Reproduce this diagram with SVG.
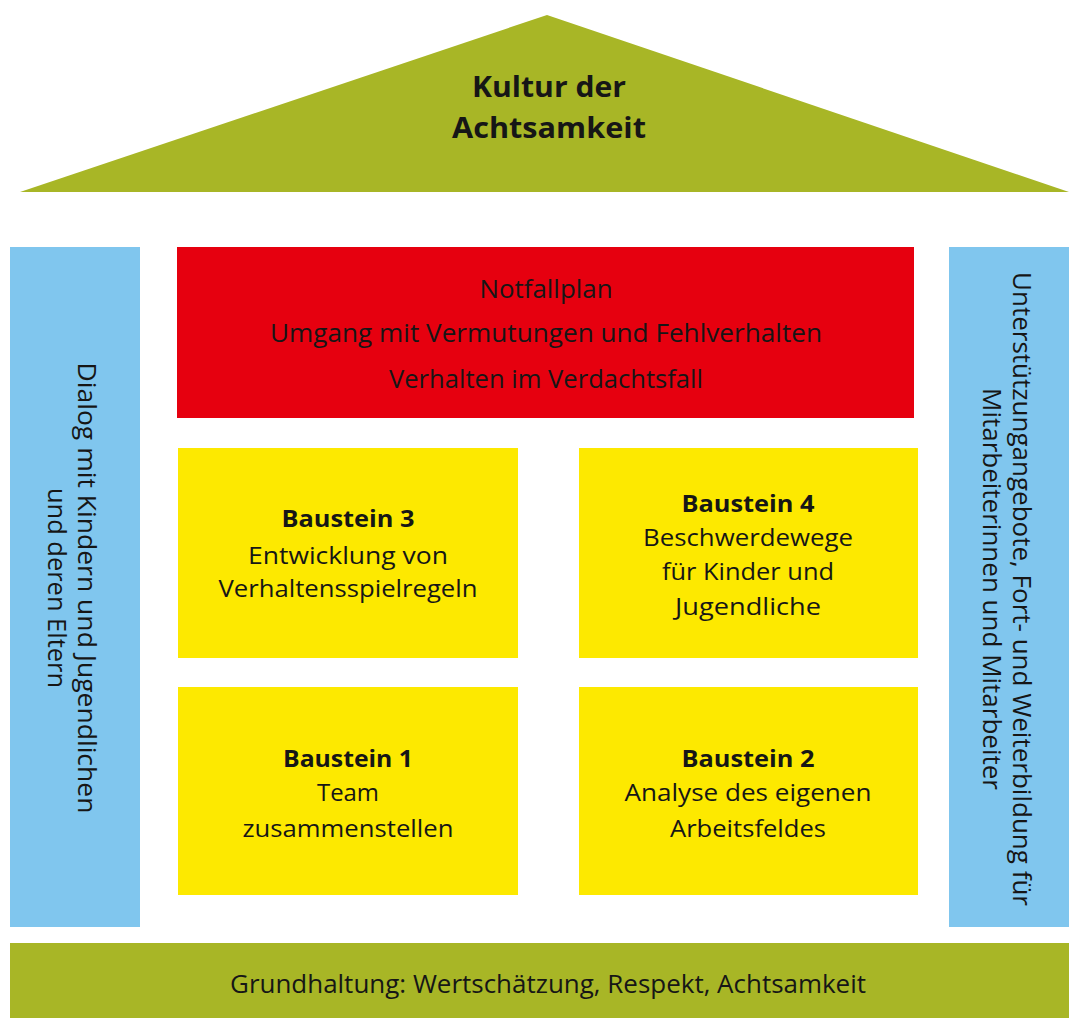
<svg xmlns="http://www.w3.org/2000/svg" width="1069" height="1018" viewBox="0 0 1069 1018">
  <style>
    .olive { fill: #a8b626; }
    .blue { fill: #80c6ee; }
    .red { fill: #e6000f; }
    .yellow { fill: #fde900; }
    text { font-family: "Open Sans", "Noto Sans", "DejaVu Sans", sans-serif; fill: #161616; text-anchor: middle; }
    .t { font-size: 23px; }
    .tb { font-size: 23px; font-weight: bold; }
    .big { font-size: 25px; }
    .roof { font-size: 29px; font-weight: bold; }
    .side { font-size: 26px; }
  </style>

  <rect width="1069" height="1018" fill="#ffffff"/>

  <!-- roof -->
  <g id="roof">
    <polygon class="olive" points="547,15 20,192 1069,192"/>
    <text class="roof" x="549" y="97" textLength="154" lengthAdjust="spacingAndGlyphs">Kultur der</text>
    <text class="roof" x="549" y="138" textLength="194" lengthAdjust="spacingAndGlyphs">Achtsamkeit</text>
  </g>

  <!-- left pillar -->
  <g id="pillar-left">
    <rect class="blue" x="10" y="247" width="130" height="680"/>
    <text class="side" transform="translate(78,588) rotate(90)" textLength="451" lengthAdjust="spacingAndGlyphs">Dialog mit Kindern und Jugendlichen</text>
    <text class="side" transform="translate(48,588) rotate(90)" textLength="200" lengthAdjust="spacingAndGlyphs">und deren Eltern</text>
  </g>

  <!-- right pillar -->
  <g id="pillar-right">
    <rect class="blue" x="949" y="247" width="120" height="680"/>
    <text class="side" transform="translate(1013,589) rotate(90)" textLength="634" lengthAdjust="spacingAndGlyphs">Unterstützungangebote, Fort- und Weiterbildung für</text>
    <text class="side" transform="translate(983,589) rotate(90)" textLength="402" lengthAdjust="spacingAndGlyphs">Mitarbeiterinnen und Mitarbeiter</text>
  </g>

  <!-- emergency plan -->
  <g id="notfallplan">
    <rect class="red" x="177" y="247" width="737" height="171"/>
    <text class="big" x="546" y="298" textLength="133" lengthAdjust="spacingAndGlyphs">Notfallplan</text>
    <text class="big" x="546" y="342" textLength="552" lengthAdjust="spacingAndGlyphs">Umgang mit Vermutungen und Fehlverhalten</text>
    <text class="big" x="546" y="388" textLength="314" lengthAdjust="spacingAndGlyphs">Verhalten im Verdachtsfall</text>
  </g>

  <!-- building blocks -->
  <g id="baustein-3">
    <rect class="yellow" x="178" y="448" width="340" height="210"/>
    <text class="tb" x="348" y="527" textLength="133" lengthAdjust="spacingAndGlyphs">Baustein 3</text>
    <text class="t" x="348" y="564" textLength="200" lengthAdjust="spacingAndGlyphs">Entwicklung von</text>
    <text class="t" x="348" y="597" textLength="259" lengthAdjust="spacingAndGlyphs">Verhaltensspielregeln</text>
  </g>

  <g id="baustein-4">
    <rect class="yellow" x="579" y="448" width="339" height="210"/>
    <text class="tb" x="748" y="512" textLength="133" lengthAdjust="spacingAndGlyphs">Baustein 4</text>
    <text class="t" x="748" y="546" textLength="210" lengthAdjust="spacingAndGlyphs">Beschwerdewege</text>
    <text class="t" x="748" y="580" textLength="172" lengthAdjust="spacingAndGlyphs">für Kinder und</text>
    <text class="t" x="748" y="615" textLength="146" lengthAdjust="spacingAndGlyphs">Jugendliche</text>
  </g>

  <g id="baustein-1">
    <rect class="yellow" x="178" y="687" width="340" height="208"/>
    <text class="tb" x="348" y="767" textLength="130" lengthAdjust="spacingAndGlyphs">Baustein 1</text>
    <text class="t" x="348" y="801" textLength="62" lengthAdjust="spacingAndGlyphs">Team</text>
    <text class="t" x="348" y="837" textLength="211" lengthAdjust="spacingAndGlyphs">zusammenstellen</text>
  </g>

  <g id="baustein-2">
    <rect class="yellow" x="579" y="687" width="339" height="208"/>
    <text class="tb" x="748" y="767" textLength="133" lengthAdjust="spacingAndGlyphs">Baustein 2</text>
    <text class="t" x="748" y="801" textLength="247" lengthAdjust="spacingAndGlyphs">Analyse des eigenen</text>
    <text class="t" x="748" y="837" textLength="156" lengthAdjust="spacingAndGlyphs">Arbeitsfeldes</text>
  </g>

  <!-- foundation -->
  <g id="fundament">
    <rect class="olive" x="10" y="943" width="1059" height="75"/>
    <text class="big" x="548" y="993" textLength="636" lengthAdjust="spacingAndGlyphs">Grundhaltung: Wertschätzung, Respekt, Achtsamkeit</text>
  </g>

  <g id="connectors"/>
</svg>
